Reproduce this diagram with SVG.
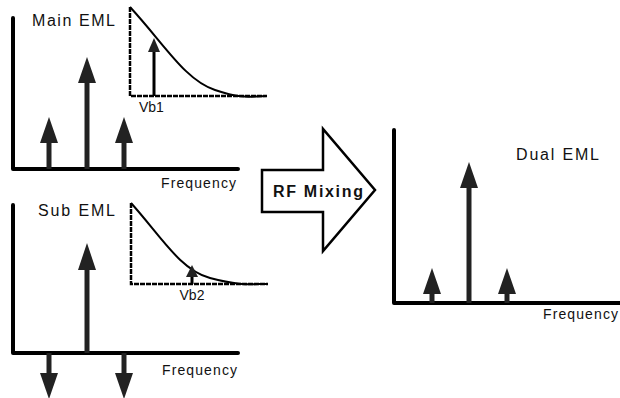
<svg xmlns="http://www.w3.org/2000/svg" width="620" height="398" viewBox="0 0 620 398">
<defs>
<style>
.axis{fill:none;stroke:#000;stroke-width:4;stroke-linecap:round;stroke-linejoin:round}
.shaft{stroke:#222;stroke-width:5}
.thin{stroke:#000;stroke-width:3}
.head{fill:#222}
.dot{fill:none;stroke:#000;stroke-width:2.5;stroke-dasharray:5 1}
.curve{fill:none;stroke:#000;stroke-width:2}
.lbl{font-family:"Liberation Sans",Arial,sans-serif;fill:#111}
.big{font-size:16px}
.fr{font-size:14px}
.vb{font-size:14px}
.mix{font-family:"Liberation Sans",Arial,sans-serif;font-size:16px;font-weight:bold;fill:#111}
</style>
</defs>
<g id="main-eml">
<path class="axis" d="M13,18 V169 H238"/>
<line class="shaft" x1="49" y1="169" x2="49" y2="140"/>
<polygon class="head" points="49,117 40,143 58,143"/>
<line class="shaft" x1="87" y1="169" x2="87" y2="80"/>
<polygon class="head" points="87,57 78,83 96,83"/>
<line class="shaft" x1="124" y1="169" x2="124" y2="140"/>
<polygon class="head" points="124,117 115,143 133,143"/>
<text class="lbl big" x="32" y="26" textLength="83" lengthAdjust="spacing">Main EML</text>
<text class="lbl fr" x="161" y="188" textLength="75" lengthAdjust="spacing">Frequency</text>
<path class="dot" d="M130,7 V96 H267"/>
<path class="curve" d="M130,7 C165,45 185,80 215,90 S250,96 267,96"/>
<line class="thin" x1="154" y1="96" x2="154" y2="50"/>
<polygon class="head" fill="#000" points="154,38 148,52 160,52"/>
<text class="lbl vb" x="139" y="112">Vb1</text>
</g>
<g id="sub-eml">
<path class="axis" d="M13,205 V353 H238"/>
<line class="shaft" x1="87" y1="353" x2="87" y2="266"/>
<polygon class="head" points="87,243 78,270 96,270"/>
<line class="shaft" x1="49" y1="353" x2="49" y2="376"/>
<polygon class="head" points="49,399 40,373 58,373"/>
<line class="shaft" x1="124" y1="353" x2="124" y2="376"/>
<polygon class="head" points="124,399 115,373 133,373"/>
<text class="lbl big" x="38" y="216" textLength="77" lengthAdjust="spacing">Sub EML</text>
<text class="lbl fr" x="162" y="375" textLength="75" lengthAdjust="spacing">Frequency</text>
<path class="dot" d="M131,203 V284 H268"/>
<path class="curve" d="M131,203 C160,235 180,270 210,278 S250,284 268,284"/>
<line class="thin" x1="192" y1="284" x2="192" y2="275"/>
<polygon class="head" fill="#000" points="192,265 186,277 198,277"/>
<text class="lbl vb" x="192" y="300" text-anchor="middle">Vb2</text>
</g>
<g id="rf-mixing">
<path d="M262,170 H323 V129 L375,190 L323,251 V212 H262 Z" fill="#fff" stroke="#000" stroke-width="2.5" stroke-linejoin="miter"/>
<text class="mix" x="273" y="197" textLength="90" lengthAdjust="spacing">RF Mixing</text>
</g>
<g id="dual-eml">
<path class="axis" d="M394,130 V303 H622"/>
<line class="shaft" x1="469" y1="303" x2="469" y2="185"/>
<polygon class="head" points="469,162 460,188 478,188"/>
<line class="shaft" x1="432" y1="303" x2="432" y2="290"/>
<polygon class="head" points="432,268 423,294 441,294"/>
<line class="shaft" x1="507" y1="303" x2="507" y2="290"/>
<polygon class="head" points="507,268 498,294 516,294"/>
<text class="lbl big" x="516" y="160" textLength="83" lengthAdjust="spacing">Dual EML</text>
<text class="lbl fr" x="543" y="319" textLength="75" lengthAdjust="spacing">Frequency</text>
</g>
<g id="connectors"></g>
</svg>
